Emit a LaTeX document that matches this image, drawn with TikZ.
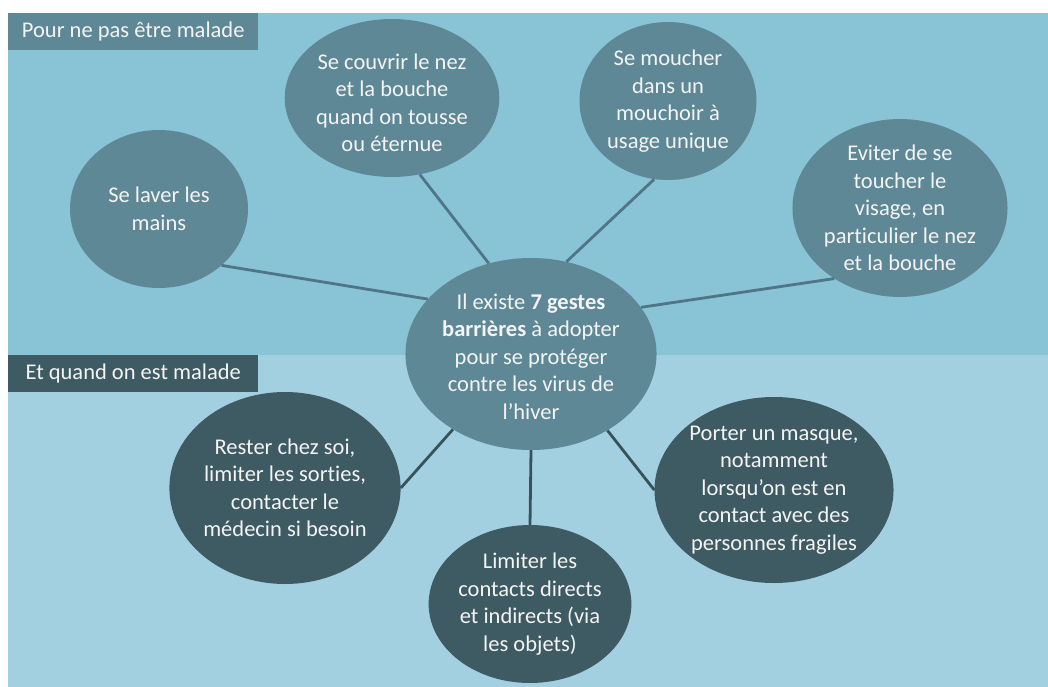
\documentclass[tikz,border=0pt]{standalone}
\usepackage{fontspec}
\setmainfont{Carlito}[Ligatures=NoCommon]
\usepackage{tikz}
\usetikzlibrary{shapes.geometric}

\definecolor{bandhaut}{HTML}{88C3D6}
\definecolor{bandbas}{HTML}{A3D0E0}
\definecolor{clair}{HTML}{5F8896}
\definecolor{fonce}{HTML}{3E5A63}
\definecolor{lienhaut}{HTML}{4F7686}
\definecolor{lienbas}{HTML}{37525B}
\definecolor{blanc}{HTML}{F4F4F4}

\begin{document}
\begin{tikzpicture}[x=1pt,y=-1pt,auto]
\tikzstyle{geste}=[ellipse,inner sep=0pt,draw=none,text=blanc,align=center]
\tikzstyle{titre}=[rectangle,inner sep=0pt,text=blanc,anchor=north west,minimum width=250pt,minimum height=37pt]
\tikzstyle{lien}=[line width=2.8pt]
\tikzset{font=\fontsize{22.5pt}{27.5pt}\selectfont}

        \useasboundingbox (0,0) rectangle (1048,687);
        \fill[white] (0,0) rectangle (1048,687);
        \fill[bandhaut] (8,13) rectangle (1048,355);
        \fill[bandbas] (8,355) rectangle (1048,687);

        \node[titre,fill=clair]         (T) at (8,13)  {Pour ne pas être malade};
        \node[titre,fill=fonce]         (B) at (8,355) {Et quand on est malade};

        \node[geste,fill=clair,minimum width=216pt,minimum height=192pt,text height=130pt,text depth=-5pt]  (0) at (531,354) {Il existe \textbf{7 gestes}\\\textbf{barrières} à adopter\\pour se protéger\\contre les virus de\\l’hiver};

        \node[geste,fill=clair,minimum width=178pt,minimum height=158pt]  (1) at (159,209) {Se laver les\\mains};
        \node[geste,fill=clair,minimum width=176pt,minimum height=158pt,text height=108pt,text depth=-10pt]  (2) at (392,98)  {Se couvrir le nez\\et la bouche\\quand on tousse\\ou éternue};
        \node[geste,fill=clair,minimum width=177pt,minimum height=158pt]  (3) at (668,101) {Se moucher\\dans un\\mouchoir à\\usage unique};
        \node[geste,fill=clair,minimum width=180pt,minimum height=154pt]  (4) at (900,208) {Eviter de se\\toucher le\\visage, en\\particulier le nez\\et la bouche};

        \node[geste,fill=fonce,minimum width=214pt,minimum height=192pt]  (5) at (285,488) {Rester chez soi,\\limiter les sorties,\\contacter le\\médecin si besoin};
        \node[geste,fill=fonce,minimum width=176pt,minimum height=158pt]  (6) at (530,604) {Limiter les\\contacts directs\\et indirects (via\\les objets)};
        \node[geste,fill=fonce,minimum width=212pt,minimum height=186pt]  (7) at (774,490) {Porter un masque,\\notamment\\lorsqu’on est en\\contact avec des\\personnes fragiles};

        \path[lien,draw=lienhaut]
        (0.152)   edge            (1.-42)
        (0.115)   edge            (2.-70)
        (0.69)    edge            (3.-100)
        (0.23)    edge            (4.-133)
        ; %end path

        \path[lien,draw=lienbas]
        (0.-136)  edge            (5.0)
        (0.-90)   edge            (6.90)
        (0.-45)   edge            (7.180)
        ; %end path

\end{tikzpicture}
\end{document}
